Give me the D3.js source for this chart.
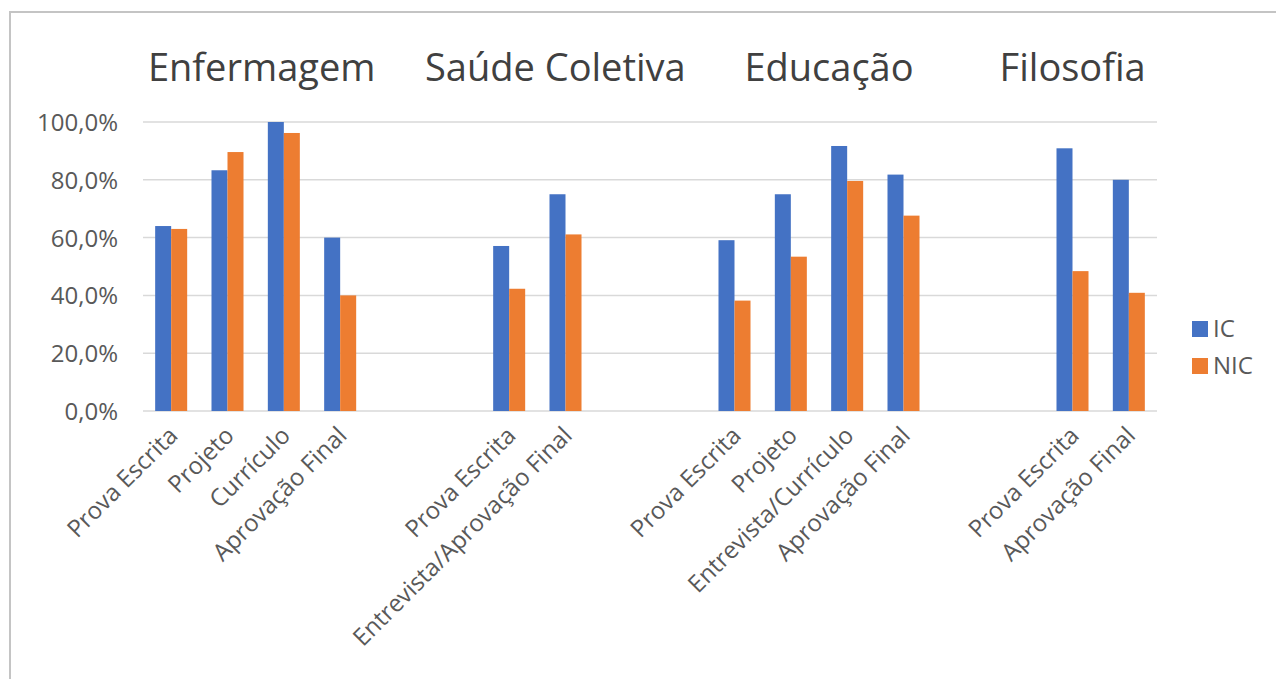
<!DOCTYPE html>
<html>
<head>
<meta charset="utf-8">
<script src="https://cdn.jsdelivr.net/npm/d3@7"></script>
<style>
  html, body { margin: 0; padding: 0; background: #ffffff; }
  svg { display: block; }
  text { font-family: "Open Sans", "DejaVu Sans", sans-serif; }
</style>
</head>
<body>
<svg id="chart" width="1276" height="679"></svg>
<script>
// Course groups and their selection stages
const groups = ["Enfermagem", "Saúde Coletiva", "Educação", "Filosofia"];
const groupStages = [
  ["Prova Escrita", "Projeto", "Currículo", "Aprovação Final"],
  ["Prova Escrita", "Entrevista/Aprovação Final"],
  ["Prova Escrita", "Projeto", "Entrevista/Currículo", "Aprovação Final"],
  ["Prova Escrita", "Aprovação Final"]
];
// Share of candidates per stage (%)
const icValues = [
  [64.0, 83.3, 100.0, 60.0],
  [57.1, 75.0],
  [59.1, 75.0, 91.7, 81.8],
  [90.9, 80.0]
];
const nicValues = [
  [63.0, 89.6, 96.2, 40.0],
  [42.3, 61.1],
  [38.2, 53.4, 79.6, 67.6],
  [48.4, 40.9]
];
const seriesNames = ["IC", "NIC"];
const yTicks = [0, 20, 40, 60, 80, 100];

const colors = { IC: "#4472C4", NIC: "#ED7D31" };
const gapSlots = 2;              // empty category slots between groups
const titleShift = [6, 18, 10, -28];

const svg = d3.select("#chart");
const W = 1276, H = 679;
const plot = { left: 143, right: 1157, top: 122, bottom: 411 };

// frame around the chart
svg.append("rect")
  .attr("x", 10).attr("y", 12)
  .attr("width", W + 10).attr("height", H + 10)
  .attr("fill", "none").attr("stroke", "#c4c4c4").attr("stroke-width", 2);

// Flatten into category slots, with spacer slots between groups
const rows = [];
const slots = [];
groups.forEach((g, gi) => {
  if (gi > 0) for (let k = 0; k < gapSlots; k++) slots.push(`gap-${gi}-${k}`);
  groupStages[gi].forEach((stage, si) => {
    const key = `${gi}-${si}`;
    slots.push(key);
    rows.push({ key, group: gi, stage, IC: icValues[gi][si], NIC: nicValues[gi][si] });
  });
});

const x = d3.scaleBand().domain(slots).range([plot.left, plot.right]).paddingInner(0).paddingOuter(0);
const inner = d3.scaleBand().domain(seriesNames).range([0, x.bandwidth()]).paddingInner(0).paddingOuter(0.76);
const y = d3.scaleLinear().domain([0, 100]).range([plot.bottom, plot.top]);

// gridlines
svg.append("g")
  .selectAll("line")
  .data(yTicks)
  .join("line")
  .attr("x1", plot.left).attr("x2", plot.right)
  .attr("y1", d => y(d)).attr("y2", d => y(d))
  .attr("stroke", "#d9d9d9").attr("stroke-width", 1.5);

// y axis labels
const yAxis = d3.axisLeft(y).tickValues(yTicks).tickSize(0).tickPadding(0)
  .tickFormat(d => d3.format(".1f")(d).replace(".", ",") + "%");
svg.append("g")
  .attr("transform", `translate(${plot.left - 25},0)`)
  .call(yAxis)
  .call(g => g.select(".domain").remove())
  .call(g => g.selectAll("text")
    .attr("fill", "#595959").attr("font-size", 24).attr("dy", "0.35em"));

// bars
const barG = svg.append("g");
rows.forEach(r => {
  barG.selectAll(null)
    .data(seriesNames.map(s => ({ s, v: r[s] })))
    .join("rect")
    .attr("x", d => x(r.key) + inner(d.s))
    .attr("y", d => y(d.v))
    .attr("width", inner.bandwidth())
    .attr("height", d => y(0) - y(d.v))
    .attr("fill", d => colors[d.s]);
});

// category labels, rotated
const xAxis = d3.axisBottom(x)
  .tickValues(rows.map(r => r.key))
  .tickSize(0).tickPadding(0)
  .tickFormat(k => rows.find(r => r.key === k).stage);
svg.append("g")
  .attr("transform", `translate(0,${plot.bottom})`)
  .call(xAxis)
  .call(g => g.select(".domain").remove())
  .call(g => g.selectAll("text")
    .attr("fill", "#595959").attr("font-size", 24)
    .attr("text-anchor", "end")
    .attr("dy", 0)
    .attr("transform", "translate(8,26) rotate(-45)"));

// group titles
svg.append("g")
  .selectAll("text")
  .data(groups)
  .join("text")
  .attr("x", (g, gi) => {
    const keys = groupStages[gi].map((s, si) => `${gi}-${si}`);
    const a = x(keys[0]), b = x(keys[keys.length - 1]) + x.bandwidth();
    return (a + b) / 2 + titleShift[gi];
  })
  .attr("y", 81)
  .attr("text-anchor", "middle")
  .attr("fill", "#404040")
  .attr("font-size", 38)
  .text(d => d);

// legend
const legend = svg.append("g").attr("transform", "translate(1192,321)");
seriesNames.forEach((s, i) => {
  const row = legend.append("g").attr("transform", `translate(0,${i * 37})`);
  row.append("rect").attr("width", 16).attr("height", 16).attr("fill", colors[s]);
  row.append("text").attr("x", 21).attr("y", 8).attr("dy", "0.35em")
    .attr("fill", "#595959").attr("font-size", 24).text(s);
});
</script>
</body>
</html>
